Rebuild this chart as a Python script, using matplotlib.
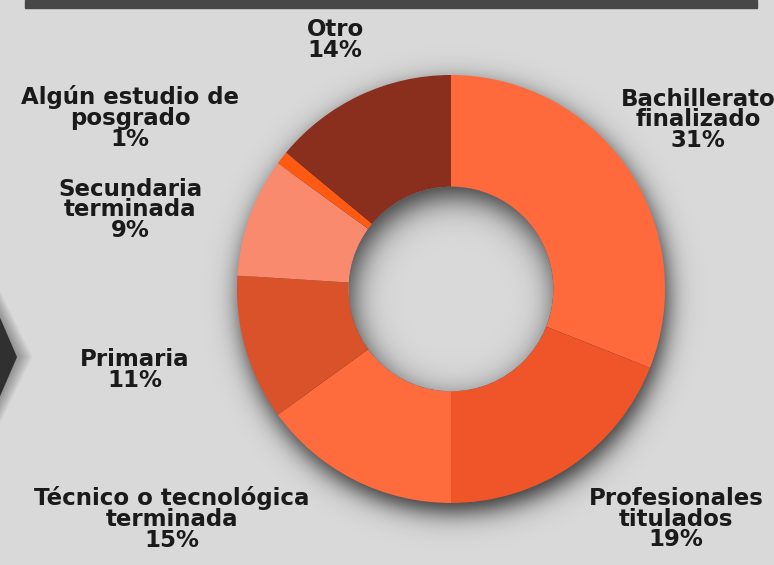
import numpy as np
import matplotlib.pyplot as plt
from matplotlib.patches import Circle, Polygon, Rectangle

categories = ["Bachillerato\nfinalizado", "Profesionales\ntitulados",
              "Técnico o tecnológica\nterminada", "Primaria",
              "Secundaria\nterminada", "Algún estudio de\nposgrado", "Otro"]
values = [31, 19, 15, 11, 9, 1, 14]
colors = ["#FF6A3D", "#EF5528", "#FE6B3D", "#DA5229", "#F98A6D", "#FF5A12", "#8A2E1D"]
# label centers in pixels (x from left, y from top)
label_pos = [(698, 120), (676, 519), (172, 519), (135, 370), (130, 210), (130, 118), (335, 40)]

W, H = 774, 565
cx, cy, R = 451, 289, 214
r_in = 0.478
bg = "#D9D9D9"


def px(x, y):
    # pixel -> data units (donut radius = 1)
    return (x - cx) / R, (cy - y) / R


def shade(ext, alpha_fn, n=500):
    xs = np.linspace(ext[0], ext[1], n)
    ys = np.linspace(ext[2], ext[3], n)
    X, Y = np.meshgrid(xs, ys)
    img = np.zeros((n, n, 4))
    img[..., 3] = alpha_fn(X, Y)
    return img


fig = plt.figure(figsize=(W / 100, H / 100), dpi=100, facecolor=bg)
ax = fig.add_axes([0, 0, 1, 1])
ax.set_facecolor(bg)

# top bar
x0, y0 = px(25, 8)
x1, y1 = px(757, 0)
ax.add_patch(Rectangle((x0, y0), x1 - x0, y1 - y0, color="#474747", zorder=1))

# left hexagon tip with soft shadow
for i in range(10):
    g = 1 + i * 1.6
    pts = [px(-40, 225 - g), px(17 + g, 357), px(-40, 489 + g)]
    ax.add_patch(Polygon(pts, closed=True, color="black", alpha=0.035, lw=0, zorder=1))
ax.add_patch(Polygon([px(-40, 225), px(17, 357), px(-40, 489)], closed=True,
                     color="#303030", lw=0, zorder=2))


# soft drop shadow under the ring
def outer_alpha(X, Y):
    s = np.hypot(X - 0.012, Y + 0.045) - 1.0
    return 0.8 / (1 + np.exp(s / 0.035))


ext = (-1.3, 1.3, -1.35, 1.25)
ax.imshow(shade(ext, outer_alpha), extent=ext, origin="lower", zorder=2,
          interpolation="bilinear")

wedges, _ = ax.pie(values, colors=colors, startangle=90, counterclock=False,
                   radius=1, wedgeprops=dict(width=1 - r_in, linewidth=0))
for w in wedges:
    w.set_zorder(3)

# hole with inset shadow
hole = Circle((0, 0), r_in, color=bg, lw=0, zorder=4)
ax.add_patch(hole)


def inner_alpha(X, Y):
    s = r_in - np.hypot(X - 0.015, Y + 0.05)
    return 0.8 / (1 + np.exp(s / 0.045))


ext2 = (-r_in, r_in, -r_in, r_in)
im = ax.imshow(shade(ext2, inner_alpha), extent=ext2, origin="lower", zorder=5,
               interpolation="bilinear")
im.set_clip_path(hole)

for lab, v, (x, y) in zip(categories, values, label_pos):
    tx, ty = px(x, y)
    ax.text(tx, ty, f"{lab}\n{v}%", ha="center", va="center", fontsize=16.5,
            fontweight="bold", color="#1A1A1A", linespacing=0.88, zorder=6)

ax.set_xlim(-cx / R, (W - cx) / R)
ax.set_ylim(-(H - cy) / R, cy / R)
ax.set_aspect("equal")
ax.axis("off")

fig.savefig("out.png", dpi=100, facecolor=bg)
